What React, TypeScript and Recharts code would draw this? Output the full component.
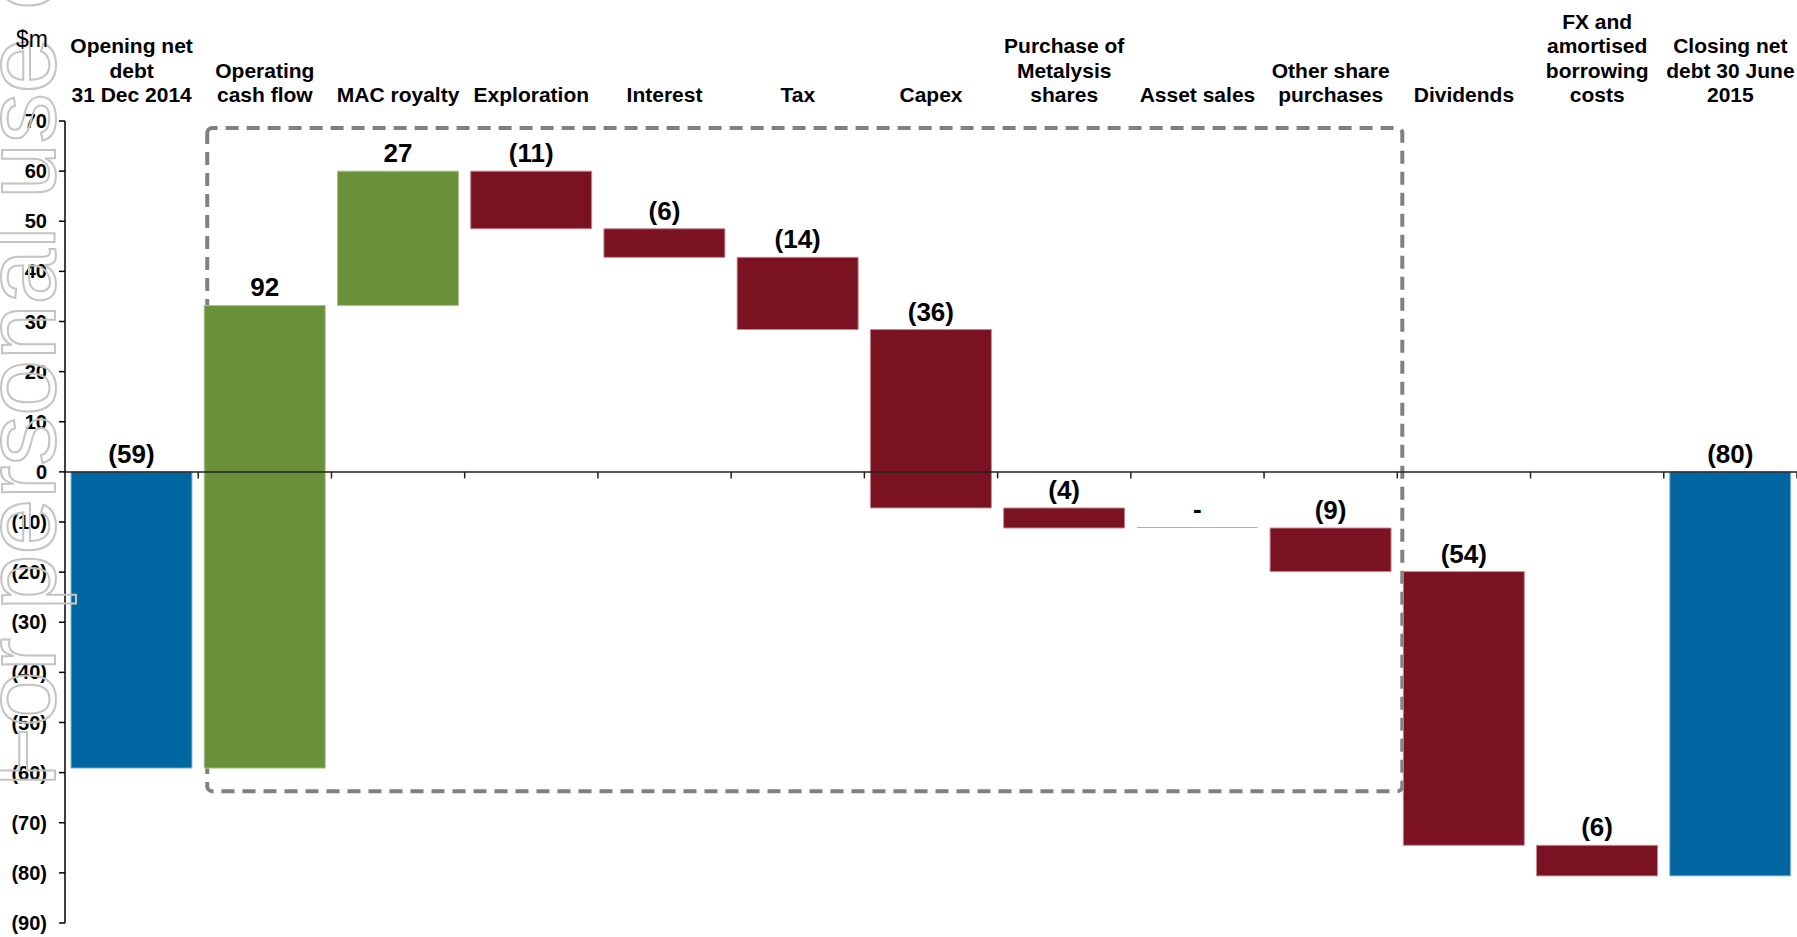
import React from "react";
import {
  Bar,
  BarChart,
  Cell,
  LabelList,
  Rectangle,
  ReferenceArea,
  ReferenceLine,
  XAxis,
  YAxis
} from "recharts";

const categories = [
  "Opening net debt 31 Dec 2014",
  "Operating cash flow",
  "MAC royalty",
  "Exploration",
  "Interest",
  "Tax",
  "Capex",
  "Purchase of Metalysis shares",
  "Asset sales",
  "Other share purchases",
  "Dividends",
  "FX and amortised borrowing costs",
  "Closing net debt 30 June 2015"
];

const categoryLines = [
  ["Opening net", "debt", "31 Dec 2014"],
  ["Operating", "cash flow"],
  ["MAC royalty"],
  ["Exploration"],
  ["Interest"],
  ["Tax"],
  ["Capex"],
  ["Purchase of", "Metalysis", "shares"],
  ["Asset sales"],
  ["Other share", "purchases"],
  ["Dividends"],
  ["FX and", "amortised", "borrowing", "costs"],
  ["Closing net", "debt 30 June", "2015"]
];

// totals are absolute levels, the rest are movements from the previous level
const movements = [-59.1, 92.3, 26.8, -11.5, -5.7, -14.4, -35.6, -4.0, 0, -8.7, -54.6, -6.1, -80.6];
const kinds = ["total", "up", "up", "down", "down", "down", "down", "down", "flat", "down", "down", "down", "total"];
const valueLabels = ["(59)", "92", "27", "(11)", "(6)", "(14)", "(36)", "(4)", "-", "(9)", "(54)", "(6)", "(80)"];

const yTicks = [70, 60, 50, 40, 30, 20, 10, 0, -10, -20, -30, -40, -50, -60, -70, -80, -90];

// dashed box around the operating movements
const boxFrom = "Operating cash flow";
const boxTo = "Other share purchases";
const boxBottom = -63.7;
const boxTop = 68.6;

const fills: Record<string, string> = {
  total: "#0066a1",
  up: "#6a913a",
  down: "#7a1222",
  flat: "#a6bf8c"
};
const strokes: Record<string, string> = {
  total: "#8fbadb",
  up: "#a9c48a",
  down: "#c58a93",
  flat: "none"
};

let level = 0;
const data = categories.map((name, i) => {
  const v = movements[i];
  let range: [number, number];
  if (kinds[i] === "total") {
    range = [Math.min(0, v), Math.max(0, v)];
    level = v;
  } else {
    const next = level + v;
    range = [Math.min(level, next), Math.max(level, next)];
    level = next;
  }
  return { name, range, label: valueLabels[i], kind: kinds[i] };
});

const linesByName: Record<string, string[]> = {};
categories.forEach((c, i) => {
  linesByName[c] = categoryLines[i];
});

const FONT = "'Liberation Sans', Arial, sans-serif";

function CategoryTick({ x, y, payload }: any) {
  const lines = linesByName[payload.value] ?? [payload.value];
  const last = y - 19;
  return (
    <text x={x} textAnchor="middle" fontFamily={FONT} fontWeight="bold" fontSize={21} fill="#000">
      {lines.map((l, i) => (
        <tspan key={i} x={x} y={last - (lines.length - 1 - i) * 24.5}>
          {l}
        </tspan>
      ))}
    </text>
  );
}

function BoxShape(props: any) {
  // the box sits a little inside the category bands
  return <Rectangle {...props} x={props.x + 9} width={props.width - 4} />;
}

function formatTick(v: number) {
  return v < 0 ? `(${-v})` : `${v}`;
}

export default function App() {
  return (
    <div style={{ position: "absolute", left: 0, top: 0, width: 1797, height: 937, background: "#fff", fontFamily: FONT }}>
      <BarChart
        width={1797}
        height={937}
        data={data}
        margin={{ top: 11, right: 0, bottom: 14, left: 8 }}
        barCategoryGap="4.5%"
      >
        <XAxis
          dataKey="name"
          orientation="top"
          height={110}
          axisLine={false}
          tickLine={false}
          tickSize={0}
          tickMargin={0}
          interval={0}
          tick={<CategoryTick />}
        />
        <YAxis
          domain={[-90, 70]}
          ticks={yTicks}
          interval={0}
          width={57}
          tickFormatter={formatTick}
          axisLine={{ stroke: "#000", strokeWidth: 1.5 }}
          tickLine={{ stroke: "#000", strokeWidth: 1.5 }}
          tickSize={6}
          tickMargin={12}
          tick={{ fill: "#000", fontSize: 20, fontWeight: "bold", fontFamily: FONT }}
        />
        <ReferenceLine y={0} stroke="#222" strokeWidth={1.5} />
        {categories.map((c) => (
          <ReferenceLine
            key={c}
            position="end"
            ifOverflow="visible"
            segment={[
              { x: c, y: 0 },
              { x: c, y: -1.3 }
            ]}
            stroke="#222"
            strokeWidth={1.5}
          />
        ))}
        <Bar dataKey="range" isAnimationActive={false} minPointSize={1}>
          {data.map((d) => (
            <Cell key={d.name} fill={fills[d.kind]} stroke={strokes[d.kind]} strokeWidth={1} />
          ))}
          <LabelList
            dataKey="label"
            position="top"
            offset={9}
            style={{ fill: "#000", fontSize: 26, fontWeight: "bold", fontFamily: FONT }}
          />
        </Bar>
        <ReferenceArea
          x1={boxFrom}
          x2={boxTo}
          y1={boxBottom}
          y2={boxTop}
          fill="none"
          fillOpacity={0}
          stroke="#808080"
          strokeWidth={4}
          strokeDasharray="13 8"
          radius={5}
          shape={<BoxShape />}
        />
      </BarChart>
      <svg
        width={1797}
        height={937}
        style={{ position: "absolute", left: 0, top: 0, pointerEvents: "none" }}
      >
        <text
          x={0}
          y={0}
          transform="translate(55, 788) rotate(-90)"
          fontFamily={FONT}
          fontSize={100}
          fill="none"
          stroke="#c4c4c4"
          strokeWidth={2}
        >
          For personal use only
        </text>
        <text x={16} y={47} fontFamily={FONT} fontSize={23} fill="#000">
          $m
        </text>
      </svg>
    </div>
  );
}
